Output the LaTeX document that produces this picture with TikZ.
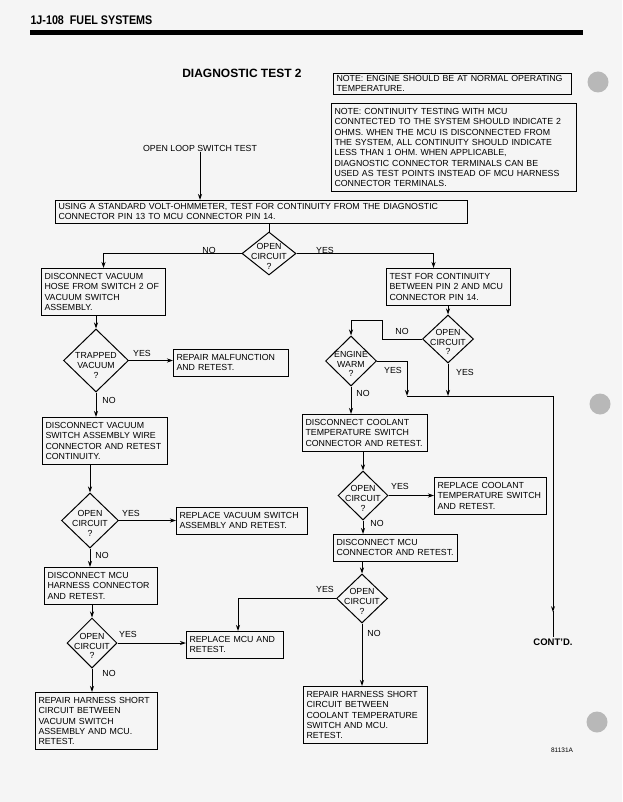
\documentclass[tikz,border=0pt]{standalone}
\usepackage{fontspec}
\setmainfont{Liberation Sans}
\usetikzlibrary{shapes.geometric,arrows.meta}

\begin{document}
\begin{tikzpicture}[x=1pt,y=-1pt,line width=1pt,
  >={Stealth[length=6pt,width=4pt]},
  boite/.style={draw,anchor=north west,align=left,inner xsep=3pt,inner ysep=5pt,
    font=\fontsize{8.8}{10.3}\selectfont},
  losange/.style={draw,diamond,inner sep=0pt,minimum width=51pt,minimum height=49pt},
  dtexte/.style={align=center,inner sep=0pt,yshift=-3pt,
    font=\fontsize{8.8}{9.6}\selectfont},
  reponse/.style={inner sep=0pt,font=\fontsize{8.8}{10}\selectfont}]

\useasboundingbox (0,0) rectangle (622,802);
\fill[black!4] (0,0) rectangle (622,802);
\fill[black!28] (598,82) circle[radius=10.5pt];
\fill[black!28] (600,404) circle[radius=10.5pt];
\fill[black!28] (597,722) circle[radius=10.5pt];

\node[anchor=west,inner sep=0pt,font=\bfseries\fontsize{12.5}{13}\selectfont]
(H)
at (30,20)
{\scalebox{0.86}[1]{1J-108\ \ FUEL SYSTEMS}};
\fill (30,30) rectangle (583,35);

\node[font=\bfseries\fontsize{12}{13}\selectfont]
(TT)
at (242,73)
{DIAGNOSTIC TEST 2};

\node[boite,inner ysep=2pt,text width=232pt]
(N1)
at (333,73)
{NOTE: ENGINE SHOULD BE AT NORMAL OPERATING\\TEMPERATURE.};

\node[boite,text width=239pt]
(N2)
at (331,103)
{NOTE: CONTINUITY TESTING WITH MCU\\CONNTECTED TO THE SYSTEM SHOULD INDICATE 2\\OHMS. WHEN THE MCU IS DISCONNECTED FROM\\THE SYSTEM, ALL CONTINUITY SHOULD INDICATE\\LESS THAN 1 OHM. WHEN APPLICABLE,\\DIAGNOSTIC CONNECTOR TERMINALS CAN BE\\USED AS TEST POINTS INSTEAD OF MCU HARNESS\\CONNECTOR TERMINALS.};

\node[reponse]
(O)
at (200,148)
{OPEN LOOP SWITCH TEST};

\node[boite,inner ysep=3pt,text width=406pt]
(T)
at (55,200)
{USING A STANDARD VOLT-OHMMETER, TEST FOR CONTINUITY FROM THE DIAGNOSTIC\\CONNECTOR PIN 13 TO MCU CONNECTOR PIN 14.};

\node[losange,minimum width=54pt,minimum height=43pt,
  label={[dtexte]center:{OPEN\\CIRCUIT\\?}}]
(D1)
at (269,253.5)
{};

\node[boite,text width=118pt]
(B1)
at (41,268)
{DISCONNECT VACUUM\\HOSE FROM SWITCH 2 OF\\VACUUM SWITCH\\ASSEMBLY.};

\node[losange,minimum width=65pt,minimum height=63pt,
  label={[dtexte,yshift=-2pt]center:{TRAPPED\\VACUUM\\?}}]
(D2)
at (96,360.5)
{};

\node[boite,text width=109pt]
(B2)
at (173,349)
{REPAIR MALFUNCTION\\AND RETEST.};

\node[boite,text width=119pt]
(B3)
at (42,417)
{DISCONNECT VACUUM\\SWITCH ASSEMBLY WIRE\\CONNECTOR AND RETEST\\CONTINUITY.};

\node[losange,minimum width=57pt,minimum height=55pt,
  label={[dtexte]center:{OPEN\\CIRCUIT\\?}}]
(D3)
at (90,520.5)
{};

\node[boite,text width=125pt]
(B4)
at (176,507)
{REPLACE VACUUM SWITCH\\ASSEMBLY AND RETEST.};

\node[boite,text width=107pt]
(B5)
at (44,567)
{DISCONNECT MCU\\HARNESS CONNECTOR\\AND RETEST.};

\node[losange,minimum width=50pt,minimum height=50pt,
  label={[dtexte]center:{OPEN\\CIRCUIT\\?}}]
(D4)
at (92,643)
{};

\node[boite,text width=91pt]
(B6)
at (186,631)
{REPLACE MCU AND\\RETEST.};

\node[boite,text width=116pt]
(B7)
at (35,692)
{REPAIR HARNESS SHORT\\CIRCUIT BETWEEN\\VACUUM SWITCH\\ASSEMBLY AND MCU.\\RETEST.};

\node[boite,text width=118pt]
(B8)
at (386,268)
{TEST FOR CONTINUITY\\BETWEEN PIN 2 AND MCU\\CONNECTOR PIN 14.};

\node[losange,minimum width=51pt,minimum height=48pt,
  label={[dtexte]center:{OPEN\\CIRCUIT\\?}}]
(D5)
at (448,339)
{};

\node[losange,minimum width=51pt,minimum height=50pt,
  label={[dtexte]center:{ENGINE\\WARM\\?}}]
(D6)
at (351,361)
{};

\node[boite,text width=119pt]
(B9)
at (302,414)
{DISCONNECT COOLANT\\TEMPERATURE SWITCH\\CONNECTOR AND RETEST.};

\node[losange,minimum width=50pt,minimum height=49pt,
  label={[dtexte]center:{OPEN\\CIRCUIT\\?}}]
(D7)
at (363,495.5)
{};

\node[boite,text width=106pt]
(B10)
at (434,477)
{REPLACE COOLANT\\TEMPERATURE SWITCH\\AND RETEST.};

\node[boite,text width=118pt]
(B11)
at (333,534)
{DISCONNECT MCU\\CONNECTOR AND RETEST.};

\node[losange,minimum width=51pt,minimum height=49pt,
  label={[dtexte]center:{OPEN\\CIRCUIT\\?}}]
(D8)
at (362,598.5)
{};

\node[boite,text width=118pt]
(B12)
at (303,686)
{REPAIR HARNESS SHORT\\CIRCUIT BETWEEN\\COOLANT TEMPERATURE\\SWITCH AND MCU.\\RETEST.};

\node[inner sep=1pt,font=\bfseries\fontsize{9.5}{10}\selectfont]
(C)
at (553,642)
{CONT'D.};

\node[inner sep=0pt,font=\fontsize{6.5}{7}\selectfont]
(R)
at (562,750)
{81131A};

\node[reponse] (n1) at (209,250) {NO};
\node[reponse] (y1) at (325,250) {YES};
\node[reponse] (y2) at (142,353) {YES};
\node[reponse] (n2) at (109,400) {NO};
\node[reponse] (y3) at (131,513) {YES};
\node[reponse] (n3) at (102,555) {NO};
\node[reponse] (y4) at (128,634) {YES};
\node[reponse] (n4) at (109,673) {NO};
\node[reponse] (n5) at (402,331) {NO};
\node[reponse] (y5) at (465,372) {YES};
\node[reponse] (y6) at (393,370) {YES};
\node[reponse] (n6) at (363,393) {NO};
\node[reponse] (y7) at (400,486) {YES};
\node[reponse] (n7) at (377,523) {NO};
\node[reponse] (y8) at (325,589) {YES};
\node[reponse] (n8) at (374,633) {NO};

\coordinate (J) at (407,396);

\draw[->] (O) -- (O |- T.north);
\draw (D1.north |- T.south) -- (D1.north);
\draw[->] (D1.west) -| (B1.north);
\draw[->] (D1.east) -| ([xshift=-15pt]B8.north);

\draw[->] (D2.north |- B1.south) -- (D2.north);
\draw[->] (D2.east) -- (D2.east -| B2.west);
\draw[->] (D2.south) -- (D2.south |- B3.north);
\draw[->] (D3.north |- B3.south) -- (D3.north);
\draw[->] (D3.east) -- (D3.east -| B4.west);
\draw[->] (D3.south) -- (D3.south |- B5.north);
\draw[->] (D4.north |- B5.south) -- (D4.north);
\draw[->] (D4.east) -- (D4.east -| B6.west);
\draw[->] (D4.south) -- (D4.south |- B7.north);

\draw[->] (D5.north |- B8.south) -- (D5.north);
\draw[->] (D5.west) -| (382,320) -| (D6.north);
\draw[->] (D6.east) -| (J);
\draw[->] (D5.south) -- (D5.south |- J);
\draw[->] (J) -| ([yshift=25pt]C.north);
\draw ([yshift=26pt]C.north) -- (C.north);

\draw[->] (D6.south) -- (D6.south |- B9.north);
\draw[->] (D7.north |- B9.south) -- (D7.north);
\draw[->] (D7.east) -- (D7.east -| B10.west);
\draw[->] (D7.south) -- (D7.south |- B11.north);
\draw[->] (D8.north |- B11.south) -- (D8.north);
\draw[->] (D8.west) -| ([xshift=3pt]B6.north);
\draw[->] (D8.south) -- (D8.south |- B12.north);

\end{tikzpicture}
\end{document}
